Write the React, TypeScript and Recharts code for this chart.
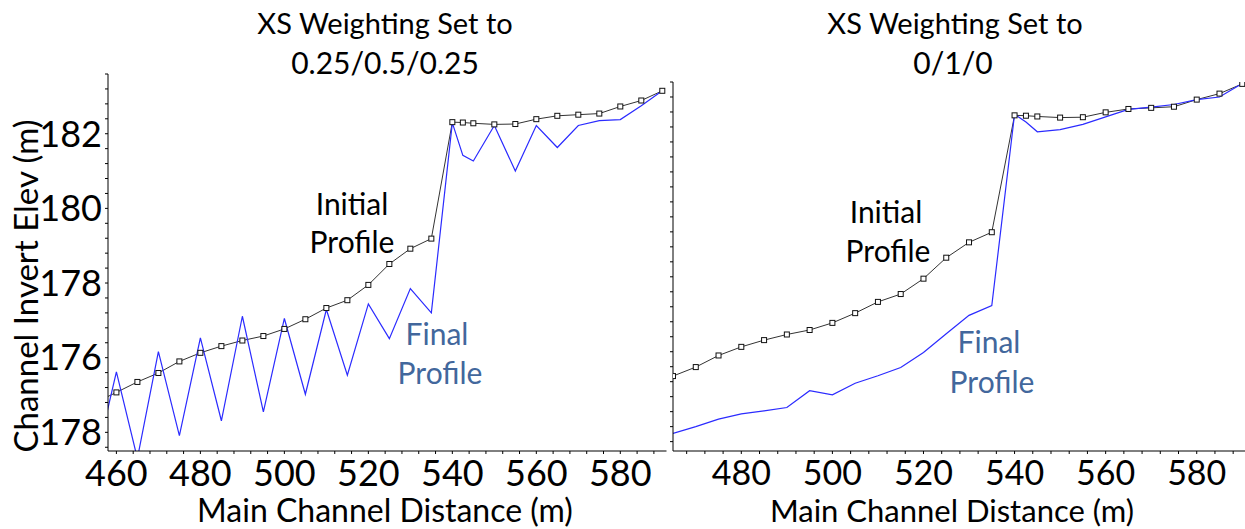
import React from "react";
import { Line, LineChart, XAxis, YAxis } from "recharts";

// distance along main channel (m)
const distances = [
	455, 460, 465, 470, 475, 480, 485, 490, 495, 500, 505, 510, 515, 520, 525,
	530, 535, 540, 542.5, 545, 550, 555, 560, 565, 570, 575, 580, 585, 590,
];

// initial profile, same in both panels
const initialElev = [
	174.8, 175.07, 175.35, 175.59, 175.9, 176.13, 176.31, 176.46, 176.58, 176.77,
	177.03, 177.33, 177.54, 177.95, 178.51, 178.92, 179.19, 182.31, 182.3, 182.28,
	182.25, 182.26, 182.39, 182.48, 182.51, 182.54, 182.73, 182.89, 183.15,
];

// final profile, weighting 0.25/0.5/0.25
const finalElevQuarter = [
	173.2, 175.62, 173.3, 176.16, 173.91, 176.53, 174.31, 177.11, 174.55, 177.05,
	175.02, 177.29, 175.53, 177.44, 176.51, 177.85, 177.2, 182.29, 181.42, 181.27,
	182.22, 181.0, 182.22, 181.63, 182.22, 182.35, 182.38, 182.75, 183.15,
];

// final profile, weighting 0/1/0
const finalElevCenter = [
	null, null, 173.82, 174.0, 174.2, 174.34, 174.42, 174.51, 174.96, 174.85,
	175.16, 175.36, 175.58, 175.98, 176.48, 176.97, 177.23, 182.34, 182.13, 181.87,
	181.93, 182.07, 182.27, 182.47, 182.53, 182.6, 182.73, 182.8, 183.16,
];

const xTickLabels = [460, 480, 500, 520, 540, 560, 580];
const yTickValues = [174, 176, 178, 180, 182];
const yTickLabels = ["178", "176", "178", "180", "182"];

const FONT = "Lato, 'Open Sans', sans-serif";
const BLUE = "#2b2bff";
const NOTE_BLUE = "#42679c";

const toRows = (elev: (number | null)[]) =>
	distances.map((x, i) => ({ x, y: elev[i] }));

const initialRows = toRows(initialElev);
const quarterRows = toRows(finalElevQuarter);
const centerRows = toRows(finalElevCenter);

const minorTicks = (from: number, to: number, step: number) => {
	const out: number[] = [];
	for (let v = from; v <= to + 1e-6; v += step) out.push(Math.round(v * 10) / 10);
	return out;
};

const xFmt = (v: number) => (xTickLabels.includes(v) ? String(v) : "");
const yFmt = (v: number) => {
	const i = yTickValues.findIndex((t) => Math.abs(t - v) < 1e-6);
	return i >= 0 ? yTickLabels[i] : "";
};

const SquareDot = (props: any) => {
	const { cx, cy, index } = props;
	if (cx == null || cy == null) return <g key={index} />;
	return (
		<rect
			key={index}
			x={cx - 2.5}
			y={cy - 2.5}
			width={5}
			height={5}
			fill="#fff"
			stroke="#111"
			strokeWidth={1}
		/>
	);
};

function Panel(props: {
	width: number;
	top: number;
	right: number;
	yWidth: number;
	xDomain: [number, number];
	yDomain: [number, number];
	xTicks: number[];
	yTicks: number[];
	showYLabels: boolean;
	tickFont: number;
	tickGap: number;
	finalRows: { x: number; y: number | null }[];
}) {
	const p = props;
	const tickStyle = { fill: "#000", fontSize: p.tickFont, fontFamily: FONT };
	return (
		<LineChart
			width={p.width}
			height={529}
			margin={{ top: p.top, right: p.right, left: 0, bottom: 0 }}
		>
			<XAxis
				type="number"
				dataKey="x"
				domain={p.xDomain}
				ticks={p.xTicks}
				interval={0}
				allowDataOverflow
				tickFormatter={xFmt}
				tickSize={3}
				tickMargin={p.tickGap}
				height={529 - 451}
				tick={tickStyle}
				stroke="#000"
			/>
			<YAxis
				type="number"
				dataKey="y"
				domain={p.yDomain}
				ticks={p.yTicks}
				interval={0}
				allowDataOverflow
				tickFormatter={p.showYLabels ? yFmt : () => ""}
				tickSize={3}
				tickMargin={3}
				width={p.yWidth}
				tick={tickStyle}
				stroke="#000"
			/>
			<Line
				data={initialRows}
				dataKey="y"
				type="linear"
				stroke="#333"
				strokeWidth={1}
				dot={SquareDot}
				activeDot={false}
				isAnimationActive={false}
			/>
			<Line
				data={p.finalRows}
				dataKey="y"
				type="linear"
				stroke={BLUE}
				strokeWidth={1.2}
				dot={false}
				activeDot={false}
				isAnimationActive={false}
			/>
		</LineChart>
	);
}

export default function App() {
	const txt = { fontFamily: FONT, fontSize: 30, textAnchor: "middle" as const };
	return (
		<div
			style={{
				position: "absolute",
				left: 0,
				top: 0,
				width: 1245,
				height: 529,
				background: "#fff",
				overflow: "hidden",
			}}
		>
			<div style={{ position: "absolute", left: 0, top: 0 }}>
				<Panel
					width={670}
					top={74}
					right={3.5}
					yWidth={108}
					xDomain={[458, 591]}
					yDomain={[173.5, 183.6]}
					xTicks={minorTicks(460, 588, 4)}
					yTicks={minorTicks(173.6, 183.6, 0.4)}
					showYLabels
					tickFont={36}
					tickGap={6}
					finalRows={quarterRows}
				/>
			</div>
			<div style={{ position: "absolute", left: 600, top: 0 }}>
				<Panel
					width={645}
					top={82}
					right={0}
					yWidth={73}
					xDomain={[465, 590.6]}
					yDomain={[173.35, 183.2]}
					xTicks={minorTicks(468, 588, 4)}
					yTicks={minorTicks(173.6, 183.2, 0.4)}
					showYLabels={false}
					tickFont={34}
					tickGap={7}
					finalRows={centerRows}
				/>
			</div>
			<svg
				width={1245}
				height={529}
				style={{ position: "absolute", left: 0, top: 0, pointerEvents: "none" }}
			>
				<text x={385} y={34} {...txt} fontSize={29}>XS Weighting Set to</text>
				<text x={385} y={74} {...txt}>0.25/0.5/0.25</text>
				<text x={955} y={34} {...txt} fontSize={29}>XS Weighting Set to</text>
				<text x={953} y={74} {...txt}>0/1/0</text>

				<text x={385} y={522} {...txt} fontSize={32}>Main Channel Distance (m)</text>
				<text x={952} y={522} {...txt} fontSize={31}>Main Channel Distance (m)</text>
				<text x={38} y={286} {...txt} fontSize={33} transform="rotate(-90 38 286)">
					Channel Invert Elev (m)
				</text>

				<text x={352} y={215} {...txt}>Initial</text>
				<text x={352} y={253} {...txt}>Profile</text>
				<text x={437} y={345} {...txt} fill={NOTE_BLUE}>Final</text>
				<text x={440} y={384} {...txt} fill={NOTE_BLUE}>Profile</text>

				<text x={886} y={223} {...txt}>Initial</text>
				<text x={888} y={262} {...txt}>Profile</text>
				<text x={989} y={353} {...txt} fill={NOTE_BLUE}>Final</text>
				<text x={992} y={393} {...txt} fill={NOTE_BLUE}>Profile</text>
			</svg>
		</div>
	);
}
